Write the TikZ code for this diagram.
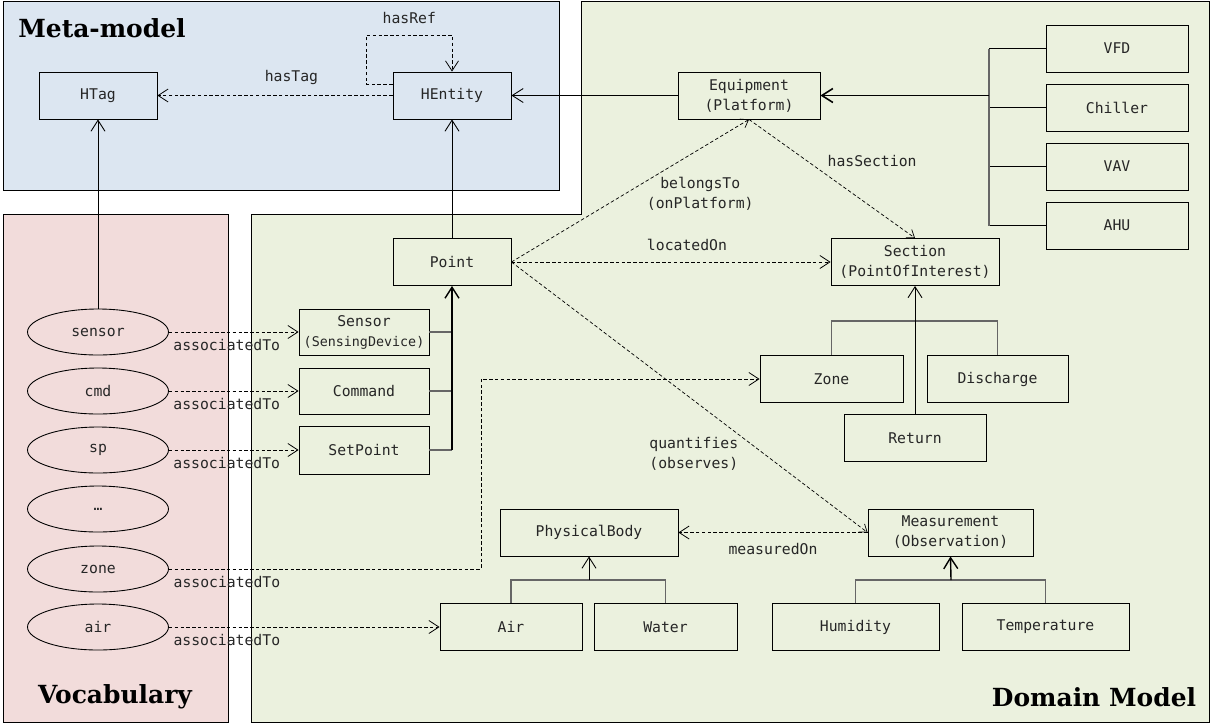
\documentclass[tikz,border=0pt]{standalone}
\usepackage{fontspec}
\newfontfamily\monofont{DejaVu Sans Mono}
\newfontfamily\titlefont{DejaVu Serif}
\usetikzlibrary{arrows.meta,shapes.geometric}

\definecolor{metabg}{HTML}{DCE6F1}
\definecolor{vocabbg}{HTML}{F2DCDB}
\definecolor{domainbg}{HTML}{EBF1DE}

\tikzset{
  cls/.style={draw, line width=0.5pt, minimum width=2.84cm, minimum height=0.94cm, inner sep=1pt, align=center,
    font=\monofont\fontsize{8.4}{11.4}\selectfont, text=black!85},
  tagnode/.style={ellipse, draw, line width=0.5pt, minimum width=2.82cm, minimum height=0.92cm, inner sep=1pt,
    font=\monofont\fontsize{8.4}{11.4}\selectfont, text=black!85},
  gen/.style={line width=0.5pt, -{Straight Barb[length=2.2mm,width=2.8mm]}},
  bus/.style={line width=0.9pt, draw=black!60},
  dep/.style={line width=0.45pt, dash pattern=on 2pt off 1.3pt, -{Straight Barb[length=2mm,width=2.6mm]}},
  deps/.style={line width=0.4pt, dash pattern=on 2pt off 1.3pt, -{Straight Barb[length=1.4mm,width=2mm]}},
  lbl/.style={font=\monofont\fontsize{8.4}{11.4}\selectfont, text=black!85, align=center, inner sep=1pt},
  title/.style={font=\titlefont\bfseries\fontsize{14.2}{17}\selectfont, inner sep=0pt}
}

\begin{document}
\begin{tikzpicture}[x=0.02cm, y=-0.02cm]
  \useasboundingbox (0,0) rectangle (1212,724);

  % backgrounds
  \draw[fill=metabg, line width=0.5pt] (3,1) rectangle (559,190);
  \draw[fill=vocabbg, line width=0.5pt] (3,214) rectangle (228,722);
  \draw[fill=domainbg, line width=0.5pt] (581,1) -- (1209,1) -- (1209,722) -- (251,722) -- (251,214) -- (581,214) -- cycle;

  \node[title] at (102,28) {Meta-model};
  \node[title] at (115,697) {Vocabulary};
  \node[title] at (1094,697) {Domain Model};

  % meta-model
  \node[cls, minimum width=2.36cm] (HTag) at (98,95.5) {HTag};
  \node[cls, minimum width=2.36cm] (HEntity) at (452,95.5) {HEntity};

  % vocabulary
  \node[tagnode] (tsensor) at (98,332) {sensor};
  \node[tagnode] (tcmd) at (98,391) {cmd};
  \node[tagnode] (tsp) at (98,450) {sp};
  \node[tagnode] (tmore) at (98,509) {…};
  \node[tagnode] (tzone) at (98,569) {zone};
  \node[tagnode] (tair) at (98,627) {air};

  % domain model
  \node[cls, minimum width=2.36cm] (Point) at (452,262) {Point};
  \node[cls, minimum width=2.6cm, minimum height=0.92cm] (Sensor) at (364,332) {Sensor\\{\fontsize{7.6}{9}\selectfont(SensingDevice)}};
  \node[cls, minimum width=2.6cm, minimum height=0.92cm] (Command) at (364,391) {Command};
  \node[cls, minimum width=2.6cm, minimum height=0.96cm] (SetPoint) at (364,450) {SetPoint};

  \node[cls] (Equipment) at (749,95.5) {Equipment\\(Platform)};
  \foreach \eq/\y in {VFD/48.5, Chiller/107.5, VAV/166.5, AHU/225.5}
    \node[cls] (\eq) at (1117,\y) {\eq};

  \node[cls, minimum width=3.36cm] (Section) at (915,262) {Section\\(PointOfInterest)};
  \node[cls, minimum width=2.86cm] (Zone) at (831.5,379) {Zone};
  \node[cls, minimum width=2.82cm] (Discharge) at (997.5,379) {Discharge};
  \node[cls] (Return) at (915,438) {Return};

  \node[cls, minimum width=3.3cm] (Measurement) at (950.5,532.5) {Measurement\\(Observation)};
  \node[cls, minimum width=3.34cm] (Humidity) at (855.5,627) {Humidity};
  \node[cls, minimum width=3.34cm] (Temperature) at (1045.5,627) {Temperature};

  \node[cls, minimum width=3.56cm] (PhysicalBody) at (589,532.5) {PhysicalBody};
  \node[cls] (Air) at (511,627) {Air};
  \node[cls, minimum width=2.86cm] (Water) at (665.5,627) {Water};

  % meta-model relations
  \draw[dep] (HEntity.west) -- (HTag.east) node[lbl, pos=0.43, above=5pt] {hasTag};
  \draw[dep] ([yshift=2.3mm]HEntity.west) -- ++(-26,0) -- ++(0,-49) -| (HEntity.north)
    node[lbl, pos=0.25, above=5pt] {hasRef};
  \draw[gen] (tsensor.north) -- (HTag.south);
  \draw[gen] (Point.north) -- (HEntity.south);
  \draw[gen] (Equipment.west) -- (HEntity.east);

  % tags to classes
  \draw[dep] (tsensor.east) -- (Sensor.west) node[lbl, midway, below=3pt, xshift=-0.14cm] {associatedTo};
  \draw[dep] (tcmd.east) -- (Command.west) node[lbl, midway, below=3pt, xshift=-0.14cm] {associatedTo};
  \draw[dep] (tsp.east) -- (SetPoint.west) node[lbl, midway, below=3pt, xshift=-0.14cm] {associatedTo};
  \draw[dep] (tzone.east) -- ++(312,0) node[lbl, pos=0.186, below=3pt] {associatedTo} |- (Zone.west);
  \draw[dep] (tair.east) -- (Air.west) node[lbl, pos=0.214, below=3pt] {associatedTo};

  % point hierarchy
  \coordinate (ptbus) at (452,450);
  \draw[bus] (Sensor.east) -- (Sensor.east -| ptbus);
  \draw[bus] (Command.east) -- (Command.east -| ptbus);
  \draw[bus] (SetPoint.east) -- (SetPoint.east -| ptbus);
  \draw[gen, line width=0.8pt] (SetPoint.east -| ptbus) -- (Point.south);

  % equipment hierarchy
  \coordinate (eqbus) at (989,95.5);
  \foreach \eq in {VFD, Chiller, VAV, AHU}
    \draw[line width=0.5pt] (\eq.west) -- (\eq.west -| eqbus);
  \draw[bus] (VFD.west -| eqbus) -- (AHU.west -| eqbus);
  \draw[gen, line width=0.9pt] (eqbus) -- (Equipment.east);

  % section hierarchy
  \coordinate (secbus) at (915,321);
  \draw[bus] (Zone.north) |- (secbus) -| (Discharge.north);
  \draw[gen] (Return.north) -- (Section.south);

  % measurement hierarchy
  \coordinate (measbus) at (951,580);
  \draw[bus] (Humidity.north) |- (measbus) -| (Temperature.north);
  \draw[gen, line width=0.8pt] (measbus) -- (Measurement.south);

  % physical body hierarchy
  \coordinate (bodybus) at (589,580);
  \draw[bus] (Air.north) |- (bodybus) -| (Water.north);
  \draw[gen] (bodybus) -- (PhysicalBody.south);

  % point relations
  \draw[deps] (Point.east) -- (Equipment.south)
    node[lbl, pos=0.7, xshift=0.45cm, yshift=-0.64cm] {belongsTo\\(onPlatform)};
  \draw[dep] (Point.east) -- (Section.west) node[lbl, pos=0.55, above=5pt] {locatedOn};
  \draw[deps] (Point.east) -- (Measurement.west)
    node[lbl, pos=0.55, xshift=-0.27cm, yshift=-0.86cm] {quantifies\\(observes)};
  \draw[deps] (Equipment.south) -- (Section.north) node[lbl, pos=0.35, xshift=1.3cm] {hasSection};
  \draw[dep] (Measurement.west) -- (PhysicalBody.east) node[lbl, midway, below=5pt] {measuredOn};
\end{tikzpicture}
\end{document}
